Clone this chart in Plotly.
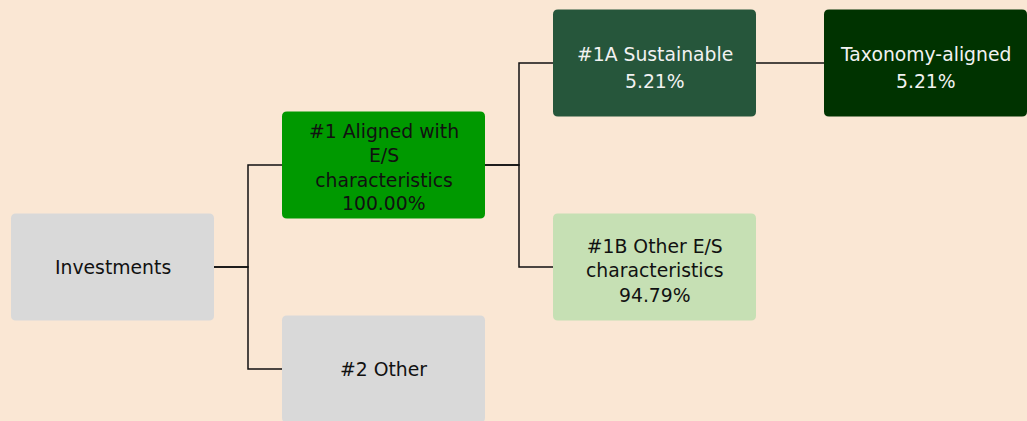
import plotly.graph_objects as go

# ---- data ----
labels = ["Investments", "#1 Aligned with<br>E/S<br>characteristics", "#2 Other",
          "#1A Sustainable", "#1B Other E/S<br>characteristics", "Taxonomy-aligned"]
shares = [None, 100.00, None, 5.21, 94.79, 5.21]
levels = [0, 1, 1, 2, 2, 3]
rows = [2, 1, 3, 0, 2, 0]
parents = [None, 0, 0, 1, 1, 3]
fills = ["#D9D9D9", "#009900", "#D9D9D9", "#26563B", "#C6E0B4", "#003300"]
text_colors = ["#111111", "#111111", "#111111", "#F2F2F2", "#111111", "#F2F2F2"]

BG = "#FAE7D4"
W, H = 1027, 421
COL_PX, ROW_PX = 271.0, 102.0
X0_PX, Y0_PX = 112.5, 63.0
HALF_W, HALF_H = 101.5 / COL_PX, 53.5 / ROW_PX
RX, RY = 5.0 / COL_PX, 5.0 / ROW_PX
FS = 18.8
LABEL_UP = 8.8
VALUE_BASE, VALUE_STEP = 8.2, 10.1

xr = [-X0_PX / COL_PX, (W - X0_PX) / COL_PX]
yr = [(H - Y0_PX) / ROW_PX, -Y0_PX / ROW_PX]

fig = go.Figure()
shapes = []
annotations = []


def rounded(cx, cy):
    l, r = cx - HALF_W, cx + HALF_W
    t, b = cy - HALF_H, cy + HALF_H
    return (f"M {l+RX},{t} L {r-RX},{t} Q {r},{t} {r},{t+RY} "
            f"L {r},{b-RY} Q {r},{b} {r-RX},{b} L {l+RX},{b} Q {l},{b} {l},{b-RY} "
            f"L {l},{t+RY} Q {l},{t} {l+RX},{t} Z")


# connectors
for i, p in enumerate(parents):
    if p is None:
        continue
    x1 = levels[p] + HALF_W
    x2 = levels[i] - HALF_W
    xm = (x1 + x2) / 2
    path = f"M {x1},{rows[p]} L {xm},{rows[p]} L {xm},{rows[i]} L {x2},{rows[i]}"
    shapes.append(dict(type="path", path=path, xref="x", yref="y",
                       line=dict(color="#111111", width=1.5), layer="below"))

# boxes and text
for i, lab in enumerate(labels):
    shapes.append(dict(type="path", path=rounded(levels[i], rows[i]), xref="x", yref="y",
                       fillcolor=fills[i], line=dict(width=0), layer="above"))
    font = dict(family="DejaVu Sans", size=FS, color=text_colors[i])
    if shares[i] is None:
        annotations.append(dict(x=levels[i], y=rows[i], xref="x", yref="y", text=lab,
                                showarrow=False, align="center", font=font))
    else:
        n = lab.count("<br>") + 1
        annotations.append(dict(x=levels[i], y=rows[i], xref="x", yref="y", text=lab,
                                showarrow=False, align="center", yshift=LABEL_UP, font=font))
        down = VALUE_BASE + VALUE_STEP * n
        annotations.append(dict(x=levels[i], y=rows[i], xref="x", yref="y",
                                text=f"{shares[i]:.2f}%", showarrow=False, align="center",
                                yshift=-down, font=font))

fig.add_trace(go.Scatter(x=[levels[0]], y=[rows[0]], mode="markers",
                         marker=dict(opacity=0), hoverinfo="skip", showlegend=False))

fig.update_layout(
    width=W, height=H, margin=dict(l=0, r=0, t=0, b=0),
    paper_bgcolor=BG, plot_bgcolor=BG,
    xaxis=dict(range=xr, visible=False, fixedrange=True),
    yaxis=dict(range=yr, visible=False, fixedrange=True),
    shapes=shapes, annotations=annotations, showlegend=False,
)

fig.write_html("out.html", config={"displayModeBar": False},
               post_script="document.body.style.margin='0';document.body.style.background='" + BG + "';")
